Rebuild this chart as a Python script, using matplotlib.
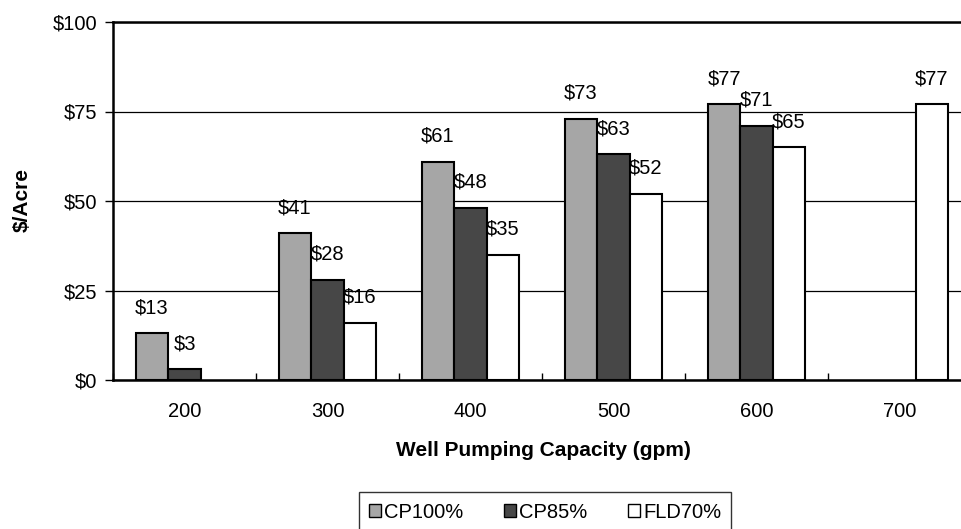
import numpy as np
import matplotlib
matplotlib.use("Agg")
import matplotlib.pyplot as plt
from matplotlib.ticker import FixedLocator

categories = ["200", "300", "400", "500", "600", "700"]
series_names = ["CP100%", "CP85%", "FLD70%"]
cp100 = [13, 41, 61, 73, 77, None]
cp85 = [3, 28, 48, 63, 71, None]
fld70 = [None, 16, 35, 52, 65, 77]
colors = ["#a6a6a6", "#474747", "#ffffff"]
yticks = [0, 25, 50, 75, 100]

plt.rcParams['font.family'] = ['Liberation Sans', 'DejaVu Sans']
FS = 14.5

fig = plt.figure(figsize=(9.61, 5.29), dpi=100)
W, H = 961, 529
ax = fig.add_axes([113 / W, (H - 380) / H, (W - 113) / W, (380 - 22) / H])

x = np.arange(len(categories))
bw = 0.227
series = [cp100, cp85, fld70]
handles = []
for i, (vals, name, col) in enumerate(zip(series, series_names, colors)):
    xs = [xi + (i - 1) * bw for xi, v in zip(x, vals) if v is not None]
    vs = [v for v in vals if v is not None]
    bars = ax.bar(xs, vs, width=bw, color=col, edgecolor="black", linewidth=1.5,
                  label=name, zorder=3)
    handles.append(bars)
    for xx, v in zip(xs, vs):
        ax.annotate(f"${v}", (xx, v), xytext=(0, 18.5), textcoords="offset points",
                    ha="center", va="center", fontsize=FS, zorder=4)

ax.set_xlim(-0.5, 5.43)
ax.set_ylim(0, 100)
ax.set_yticks(yticks)
ax.set_yticklabels([f"${t}" for t in yticks], fontsize=FS)
ax.set_xticks(x)
ax.set_xticklabels(categories, fontsize=FS)
ax.xaxis.set_minor_locator(FixedLocator(np.arange(-0.5, 6, 1.0)))
ax.tick_params(axis="x", which="major", length=0, pad=16)
ax.tick_params(axis="x", which="minor", direction="in", length=5, width=1)
ax.tick_params(axis="y", which="major", direction="out", length=6, width=1, pad=5.5)

ax.yaxis.grid(True, color="black", linewidth=0.9, zorder=0)
ax.set_axisbelow(True)
for s in ["left", "bottom", "top"]:
    ax.spines[s].set_linewidth(1.8)
ax.spines["right"].set_visible(False)

fig.text(22 / W, 1 - 200 / H, "$/Acre", rotation=90, ha="center", va="center",
         fontsize=15, fontweight="bold")
fig.text(543 / W, 1 - 451 / H, "Well Pumping Capacity (gpm)", ha="center",
         va="center", fontsize=15, fontweight="bold")

leg = fig.legend(handles=handles, labels=series_names, loc="center",
                 bbox_to_anchor=(545 / W, 1 - 512 / H), ncol=3, fontsize=FS,
                 frameon=True, fancybox=False, edgecolor="black",
                 handlelength=0.62, handleheight=0.62, handletextpad=0.15,
                 columnspacing=2.0, borderpad=0.5)
leg.get_frame().set_linewidth(1.0)
for h in leg.legend_handles:
    h.set_linewidth(1.0)

fig.savefig("out.png", dpi=100)
